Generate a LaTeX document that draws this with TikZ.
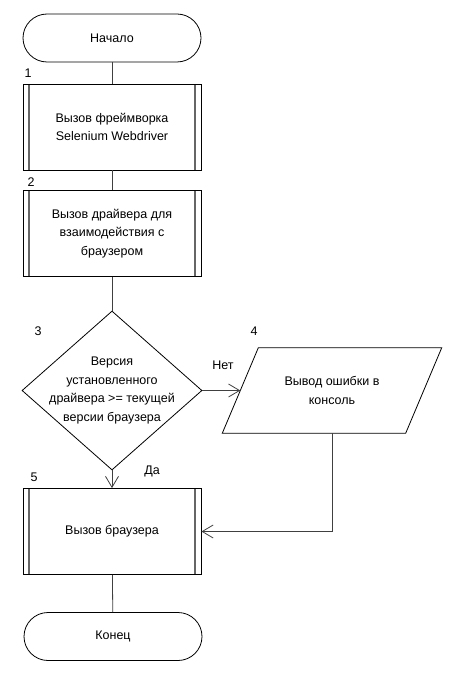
\documentclass[tikz,border=0pt]{standalone}
\usepackage{fontspec}
\setmainfont{Liberation Sans}
\usetikzlibrary{shapes.geometric,arrows.meta}
\begin{document}
\begin{tikzpicture}[x=1pt,y=-1pt,
  txt/.style={font=\fontsize{12.5}{18.5}\selectfont, align=center},
  lbl/.style={font=\fontsize{12.5}{15}\selectfont, inner sep=0pt},
  term/.style={draw, line width=0.8pt, rectangle, rounded corners=24pt, minimum width=178pt, minimum height=48pt, inner sep=0pt, txt},
  subproc/.style={draw, line width=0.8pt, rectangle, minimum width=178pt, minimum height=86pt, inner sep=0pt, txt,
    path picture={
      \draw[line width=1.4pt, black!60] ([xshift=6pt]path picture bounding box.north west) -- ([xshift=6pt]path picture bounding box.south west);
      \draw[line width=1.4pt, black!60] ([xshift=-6pt]path picture bounding box.north east) -- ([xshift=-6pt]path picture bounding box.south east);}},
  dec/.style={draw, line width=0.8pt, diamond, minimum width=180pt, minimum height=159pt, inner sep=0pt, aspect=1.13},
  conn/.style={line width=0.8pt, black!75},
  arr/.style={conn, -{Straight Barb[length=11pt,width=13pt,line width=0.8pt]}}
]
\useasboundingbox (0,0) rectangle (461,695);

\node[term] (start) at (112,38) {Начало};
\node[subproc] (b1) at (112,127) {Вызов фреймворка\\Selenium Webdriver};
\node[subproc] (b2) at (112,233.5) {Вызов драйвера для\\взаимодействия с\\браузером};
\node[dec] (d) at (112,390.5) {};
\node[txt] (dt) at (112,390.5) {Версия\\установленного\\драйвера >= текущей\\версии браузера};
\node[rectangle, minimum width=183pt, minimum height=85pt, inner sep=0pt, txt] (io) at (332,390.5) {Вывод ошибки в\\консоль};
\draw[line width=0.8pt] ([xshift=18pt]io.north west) -- ([xshift=18pt]io.north east)
  -- ([xshift=-18pt]io.south east) -- ([xshift=-18pt]io.south west) -- cycle;
\node[subproc] (b5) at (112,531.5) {Вызов браузера};
\node[term] (end) at (113,636.5) {Конец};

\node[lbl] (n1) at (28,73) {1};
\node[lbl] (n2) at (31,182) {2};
\node[lbl] (n3) at (38,331) {3};
\node[lbl] (n4) at (254,331) {4};
\node[lbl] (n5) at (34,477) {5};
\node[lbl] (no) at (223,365) {Нет};
\node[lbl] (yes) at (152,471) {Да};

\draw[conn] (start) -- (b1);
\draw[conn] (b1) -- (b2);
\draw[conn] (b2) -- (d.north);
\draw[arr] (d.east) -- (io.west);
\draw[arr] (d.south) -- (b5.north);
\draw[arr] (io.south) |- (b5.east);
\draw[conn] (b5) -- (end);
\end{tikzpicture}
\end{document}
